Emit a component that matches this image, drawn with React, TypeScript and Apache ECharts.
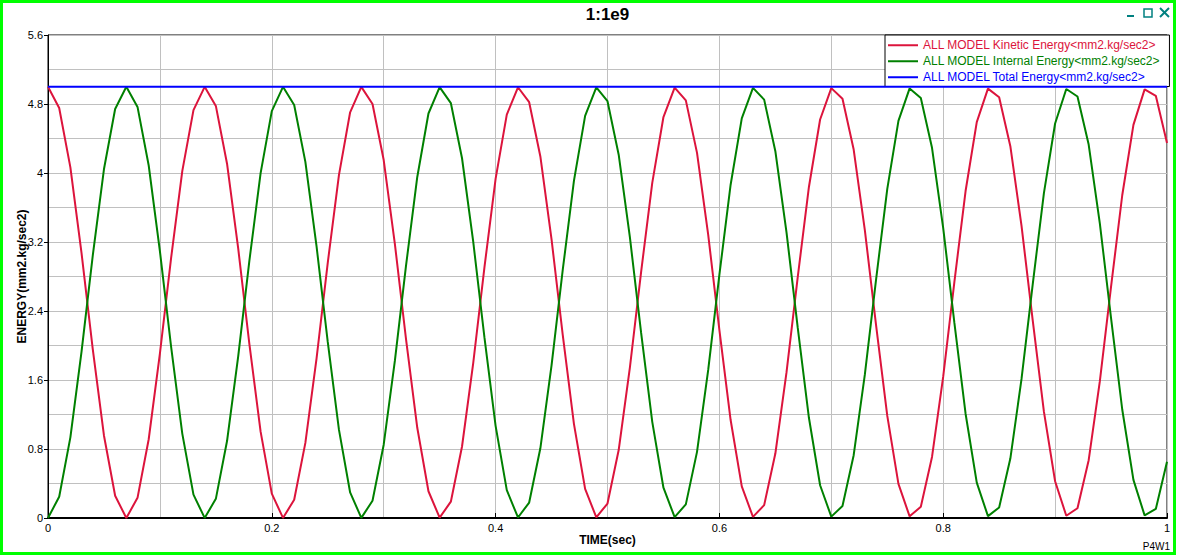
import React, { useEffect, useRef } from "react";
import * as echarts from "echarts";

const TIME = [
  0.0, 0.01, 0.02, 0.03, 0.04, 0.05, 0.06, 0.07, 0.08, 0.09,
  0.1, 0.11, 0.12, 0.13, 0.14, 0.15, 0.16, 0.17, 0.18, 0.19,
  0.2, 0.21, 0.22, 0.23, 0.24, 0.25, 0.26, 0.27, 0.28, 0.29,
  0.3, 0.31, 0.32, 0.33, 0.34, 0.35, 0.36, 0.37, 0.38, 0.39,
  0.4, 0.41, 0.42, 0.43, 0.44, 0.45, 0.46, 0.47, 0.48, 0.49,
  0.5, 0.51, 0.52, 0.53, 0.54, 0.55, 0.56, 0.57, 0.58, 0.59,
  0.6, 0.61, 0.62, 0.63, 0.64, 0.65, 0.66, 0.67, 0.68, 0.69,
  0.7, 0.71, 0.72, 0.73, 0.74, 0.75, 0.76, 0.77, 0.78, 0.79,
  0.8, 0.81, 0.82, 0.83, 0.84, 0.85, 0.86, 0.87, 0.88, 0.89,
  0.9, 0.91, 0.92, 0.93, 0.94, 0.95, 0.96, 0.97, 0.98, 0.99,
  1.0,
];

const KINETIC = [
  5.0, 4.754, 4.065, 3.068, 1.959, 0.957, 0.258, 0.0, 0.234, 0.913,
  1.905, 3.013, 4.021, 4.729, 4.999, 4.778, 4.108, 3.122, 2.014, 1.001,
  0.283, 0.001, 0.211, 0.871, 1.851, 2.959, 3.976, 4.704, 4.998, 4.8,
  4.15, 3.176, 2.069, 1.046, 0.31, 0.004, 0.189, 0.829, 1.797, 2.904,
  3.931, 4.677, 4.994, 4.821, 4.192, 3.23, 2.124, 1.092, 0.337, 0.008,
  0.168, 0.788, 1.744, 2.849, 3.885, 4.649, 4.99, 4.842, 4.233, 3.283,
  2.179, 1.139, 0.366, 0.013, 0.149, 0.747, 1.691, 2.793, 3.838, 4.62,
  4.984, 4.861, 4.272, 3.336, 2.235, 1.186, 0.395, 0.019, 0.13, 0.708,
  1.638, 2.738, 3.791, 4.59, 4.978, 4.878, 4.311, 3.388, 2.29, 1.233,
  0.426, 0.026, 0.113, 0.67, 1.586, 2.682, 3.742, 4.558, 4.97, 4.895,
  4.349,
];

const INTERNAL = [
  0.0, 0.246, 0.935, 1.932, 3.041, 4.043, 4.742, 5.0, 4.766, 4.087,
  3.095, 1.987, 0.979, 0.271, 0.001, 0.222, 0.892, 1.878, 2.986, 3.999,
  4.717, 4.999, 4.789, 4.129, 3.149, 2.041, 1.024, 0.296, 0.002, 0.2,
  0.85, 1.824, 2.931, 3.954, 4.69, 4.996, 4.811, 4.171, 3.203, 2.096,
  1.069, 0.323, 0.006, 0.179, 0.808, 1.77, 2.876, 3.908, 4.663, 4.992,
  4.832, 4.212, 3.256, 2.151, 1.115, 0.351, 0.01, 0.158, 0.767, 1.717,
  2.821, 3.861, 4.634, 4.987, 4.851, 4.253, 3.309, 2.207, 1.162, 0.38,
  0.016, 0.139, 0.728, 1.664, 2.765, 3.814, 4.605, 4.981, 4.87, 4.292,
  3.362, 2.262, 1.209, 0.41, 0.022, 0.122, 0.689, 1.612, 2.71, 3.767,
  4.574, 4.974, 4.887, 4.33, 3.414, 2.318, 1.258, 0.442, 0.03, 0.105,
  0.651,
];

const TOTAL = [
  5.0, 5.0, 5.0, 5.0, 5.0, 5.0, 5.0, 5.0, 5.0, 5.0,
  5.0, 5.0, 5.0, 5.0, 5.0, 5.0, 5.0, 5.0, 5.0, 5.0,
  5.0, 5.0, 5.0, 5.0, 5.0, 5.0, 5.0, 5.0, 5.0, 5.0,
  5.0, 5.0, 5.0, 5.0, 5.0, 5.0, 5.0, 5.0, 5.0, 5.0,
  5.0, 5.0, 5.0, 5.0, 5.0, 5.0, 5.0, 5.0, 5.0, 5.0,
  5.0, 5.0, 5.0, 5.0, 5.0, 5.0, 5.0, 5.0, 5.0, 5.0,
  5.0, 5.0, 5.0, 5.0, 5.0, 5.0, 5.0, 5.0, 5.0, 5.0,
  5.0, 5.0, 5.0, 5.0, 5.0, 5.0, 5.0, 5.0, 5.0, 5.0,
  5.0, 5.0, 5.0, 5.0, 5.0, 5.0, 5.0, 5.0, 5.0, 5.0,
  5.0, 5.0, 5.0, 5.0, 5.0, 5.0, 5.0, 5.0, 5.0, 5.0,
  5.0,
];

const SERIES_NAMES = [
  "ALL MODEL Kinetic Energy<mm2.kg/sec2>",
  "ALL MODEL Internal Energy<mm2.kg/sec2>",
  "ALL MODEL Total Energy<mm2.kg/sec2>",
];
const SERIES_COLORS = ["#dc143c", "#008000", "#0000ff"];

const X_TICKS = [0, 0.2, 0.4, 0.6, 0.8, 1];
const X_TICK_LABELS = ["0", "0.2", "0.4", "0.6", "0.8", "1"];
const Y_TICKS = [0, 0.8, 1.6, 2.4, 3.2, 4, 4.8, 5.6];
const Y_TICK_LABELS = ["0", "0.8", "1.6", "2.4", "3.2", "4", "4.8", "5.6"];

const TITLE = "1:1e9";
const X_NAME = "TIME(sec)";
const Y_NAME = "ENERGY(mm2.kg/sec2)";
const FOOTER = "P4W1";

const FONT = "'Liberation Sans', Arial, sans-serif";
const TEAL = "#008080";

function labelFor(ticks: number[], labels: string[], v: number): string {
  const i = ticks.findIndex((t) => Math.abs(t - v) < 1e-6);
  return i >= 0 ? labels[i] : "";
}

function pairs(xs: number[], ys: number[]): number[][] {
  return xs.map((x, i) => [x, ys[i]]);
}

export default function App() {
  const ref = useRef<HTMLDivElement>(null);

  useEffect(() => {
    document.body.style.margin = "0";
    if (!ref.current) return;
    const chart = echarts.init(ref.current, null, { renderer: "svg" });
    const seriesData = [KINETIC, INTERNAL, TOTAL];
    chart.setOption({
      animation: false,
      backgroundColor: "#ffffff",
      textStyle: { fontFamily: FONT },
      grid: {
        left: 48,
        top: 35,
        right: 13,
        bottom: 39,
        show: true,
        borderColor: "#000000",
        borderWidth: 1,
        backgroundColor: "transparent",
        containLabel: false,
        outerBoundsMode: "none",
      },
      legend: {
        orient: "vertical",
        left: 885,
        top: 35,
        padding: [4, 9, 3, 3],
        itemGap: 3.5,
        itemWidth: 30,
        itemHeight: 2,
        icon: "rect",
        borderColor: "#000000",
        borderWidth: 1,
        borderRadius: 0,
        backgroundColor: "#ffffff",
        selectedMode: false,
        textStyle: { fontSize: 12, lineHeight: 12.5, fontFamily: FONT },
        data: SERIES_NAMES.map((n, i) => ({
          name: n,
          itemStyle: { color: SERIES_COLORS[i] },
          textStyle: { color: SERIES_COLORS[i] },
        })),
      },
      xAxis: {
        type: "value",
        min: 0,
        max: 1,
        interval: 0.2,
        name: X_NAME,
        nameLocation: "middle",
        nameGap: 16,
        nameMoveOverlap: false,
        nameTextStyle: { color: "#000", fontWeight: "bold", fontSize: 12, fontFamily: FONT },
        axisLine: { show: true, onZero: false, lineStyle: { color: "#000", width: 2 } },
        axisTick: { show: true, inside: true, length: 5, lineStyle: { color: "#000", width: 1 } },
        axisLabel: {
          show: true,
          margin: 4,
          color: "#000",
          fontSize: 11,
          fontFamily: FONT,
          showMinLabel: true,
          showMaxLabel: true,
          formatter: (v: number) => labelFor(X_TICKS, X_TICK_LABELS, v),
        },
        splitLine: { show: true, lineStyle: { color: "#c0c0c0", width: 1 } },
        minorTick: { show: false, splitNumber: 2 },
        minorSplitLine: { show: true, lineStyle: { color: "#c0c0c0", width: 1 } },
      },
      yAxis: {
        type: "value",
        min: 0,
        max: 5.6,
        interval: 0.8,
        name: Y_NAME,
        nameLocation: "middle",
        nameRotate: 90,
        nameGap: 20,
        nameMoveOverlap: false,
        nameTextStyle: { color: "#000", fontWeight: "bold", fontSize: 12, fontFamily: FONT },
        axisLine: { show: true, onZero: false, lineStyle: { color: "#000", width: 1 } },
        axisTick: { show: true, inside: false, length: 4, lineStyle: { color: "#000", width: 1 } },
        axisLabel: {
          show: true,
          margin: 5,
          color: "#000",
          fontSize: 11,
          fontFamily: FONT,
          showMinLabel: true,
          showMaxLabel: true,
          formatter: (v: number) => labelFor(Y_TICKS, Y_TICK_LABELS, v),
        },
        splitLine: { show: true, lineStyle: { color: "#c0c0c0", width: 1 } },
        minorTick: { show: false, splitNumber: 2 },
        minorSplitLine: { show: true, lineStyle: { color: "#c0c0c0", width: 1 } },
      },
      series: SERIES_NAMES.map((n, i) => ({
        name: n,
        type: "line",
        data: pairs(TIME, seriesData[i]),
        symbol: "none",
        showSymbol: false,
        silent: true,
        clip: true,
        color: SERIES_COLORS[i],
        lineStyle: { color: SERIES_COLORS[i], width: 2 },
        z: 2 + i,
      })),
      graphic: [
        {
          type: "text",
          x: 607.5,
          y: 14,
          style: {
            text: TITLE,
            fill: "#000",
            font: `bold 17px ${FONT}`,
            align: "center",
            verticalAlign: "middle",
          },
        },
        {
          type: "text",
          x: 1170,
          y: 546,
          style: {
            text: FOOTER,
            fill: "#000",
            font: `10px ${FONT}`,
            align: "right",
            verticalAlign: "middle",
          },
        },
        {
          type: "rect",
          shape: { x: 1127, y: 15, width: 7, height: 2 },
          style: { fill: TEAL },
        },
        {
          type: "rect",
          shape: { x: 1144, y: 9, width: 8, height: 8 },
          style: { fill: "none", stroke: TEAL, lineWidth: 1.5 },
        },
        {
          type: "line",
          shape: { x1: 1160, y1: 8, x2: 1169, y2: 17 },
          style: { stroke: TEAL, lineWidth: 2 },
        },
        {
          type: "line",
          shape: { x1: 1169, y1: 8, x2: 1160, y2: 17 },
          style: { stroke: TEAL, lineWidth: 2 },
        },
      ],
    });
    return () => {
      chart.dispose();
    };
  }, []);

  return (
    <div style={{ position: "fixed", left: 0, top: 0, width: 1180, height: 557, background: "#ffffff" }}>
      <div ref={ref} style={{ position: "absolute", left: 0, top: 0, width: 1180, height: 557 }} />
      <div
        style={{
          position: "absolute",
          left: 0,
          top: 0,
          width: 1176,
          height: 555,
          border: "3px solid #00ff00",
          boxSizing: "border-box",
          pointerEvents: "none",
        }}
      />
    </div>
  );
}
